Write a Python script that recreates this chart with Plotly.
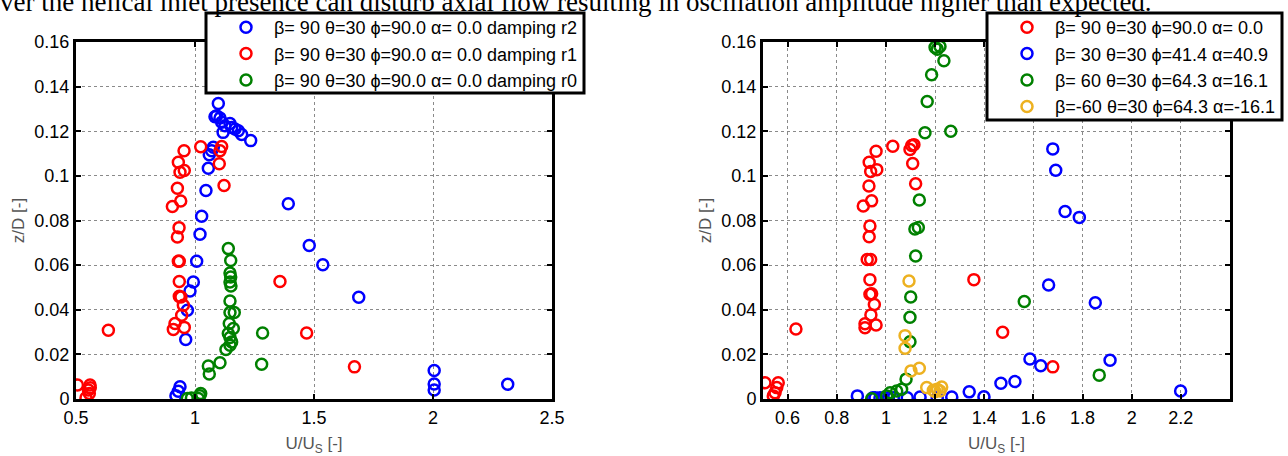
import plotly.graph_objects as go

# ---------------- data: left panel (damping comparison) ----------------
left_r2_x = [1.098, 1.091, 1.084, 1.105, 1.112, 1.126, 1.147, 1.154, 1.118, 1.168, 1.182, 1.196, 1.234,
             1.077, 1.070, 1.060, 1.056, 1.046, 1.392, 1.028, 1.021, 1.007, 0.993, 0.979, 0.968, 0.961,
             1.480, 1.537, 1.688, 0.937, 0.930, 0.920, 2.005, 2.005, 2.005, 2.314]
left_r2_y = [0.1324, 0.1269, 0.1265, 0.1259, 0.1240, 0.1225, 0.1235, 0.1217, 0.1195, 0.1210, 0.1202, 0.1185, 0.1158,
             0.1128, 0.1113, 0.1095, 0.1034, 0.0934, 0.0875, 0.0819, 0.0738, 0.0617, 0.0524, 0.0484, 0.0398, 0.0267,
             0.0688, 0.0602, 0.0456, 0.0055, 0.0035, 0.0015, 0.0128, 0.0067, 0.0040, 0.0066]

left_r1_x = [0.954, 1.024, 1.112, 1.105, 0.930, 0.937, 0.955, 1.102, 1.122, 0.926, 0.940, 0.905, 0.933, 0.926,
             0.930, 0.934, 0.934, 0.934, 0.941, 0.951, 0.944, 0.916, 0.909, 0.955, 1.357, 1.469, 1.670, 0.636,
             0.506, 0.559, 0.552, 0.556, 0.542, 0.560]
left_r1_y = [0.1113, 0.1131, 0.1132, 0.1113, 0.1061, 0.1016, 0.1024, 0.1054, 0.0957, 0.0945, 0.0887, 0.0863, 0.0768, 0.0726,
             0.0617, 0.0617, 0.0527, 0.0460, 0.0457, 0.0420, 0.0375, 0.0338, 0.0312, 0.0321, 0.0527, 0.0296, 0.0144, 0.0308,
             0.0063, 0.0063, 0.0040, 0.0025, 0.0005, 0.0050]

left_r0_x = [1.140, 1.150, 1.147, 1.150, 1.147, 1.151, 1.147, 1.147, 1.165, 1.144, 1.161, 1.140, 1.147, 1.154, 1.147,
             1.130, 1.105, 1.056, 1.060, 1.284, 1.280, 0.968, 1.014, 1.024, 0.985, 1.020]
left_r0_y = [0.0674, 0.0621, 0.0565, 0.0547, 0.0524, 0.0506, 0.0439, 0.0388, 0.0388, 0.0338, 0.0316, 0.0294, 0.0276, 0.0256, 0.0241,
             0.0222, 0.0162, 0.0148, 0.0112, 0.0296, 0.0156, 0.0002, 0.0002, 0.0025, 0.0005, 0.0015]

# ---------------- data: right panel (inlet orientation) ----------------
right_b90_x = [0.960, 1.028, 1.105, 1.114, 1.098, 0.932, 0.963, 0.938, 1.109, 1.121, 0.931, 0.942, 0.908, 0.935,
               0.932, 0.924, 0.938, 0.935, 0.935, 0.942, 0.953, 0.939, 0.915, 0.915, 0.960, 1.358, 1.475, 1.679,
               0.634, 0.508, 0.562, 0.556, 0.549, 0.542]
right_b90_y = [0.1110, 0.1133, 0.1136, 0.1140, 0.1118, 0.1061, 0.1028, 0.1020, 0.1055, 0.0965, 0.0955, 0.0888, 0.0865, 0.0775,
               0.0727, 0.0625, 0.0625, 0.0535, 0.0469, 0.0472, 0.0424, 0.0377, 0.0337, 0.0319, 0.0332, 0.0535, 0.0299, 0.0144,
               0.0314, 0.0073, 0.0073, 0.0051, 0.0028, 0.0014]

right_b30_x = [1.679, 1.691, 1.729, 1.787, 1.662, 1.852, 1.586, 1.630, 1.912, 1.525, 1.468, 2.199,
               0.884, 0.947, 0.956, 0.976, 0.989, 1.010, 1.030, 1.087, 1.139, 1.209, 1.268, 1.339, 1.399]
right_b30_y = [0.1121, 0.1025, 0.0840, 0.0814, 0.0511, 0.0431, 0.0179, 0.0149, 0.0174, 0.0078, 0.0071, 0.0036,
               0.0014, 0.0006, 0.0006, 0.0006, 0.0003, 0.0006, 0.0006, 0.0006, 0.0009, 0.0006, 0.0009, 0.0032, 0.0010]

right_b60_x = [1.200, 1.220, 1.209, 1.236, 1.186, 1.168, 1.159, 1.264, 1.136, 1.118, 1.132, 1.121, 1.101, 1.098,
               1.098, 1.082, 1.064, 1.044, 1.017, 1.003, 0.942, 1.563, 1.868]
right_b60_y = [0.1576, 0.1580, 0.1568, 0.1516, 0.1453, 0.1333, 0.1193, 0.1200, 0.0892, 0.0762, 0.0769, 0.0641, 0.0457, 0.0366,
               0.0257, 0.0089, 0.0044, 0.0036, 0.0028, 0.0014, 0.0001, 0.0437, 0.0107]

right_bm60_x = [1.094, 1.078, 1.078, 1.102, 1.136, 1.166, 1.209, 1.220, 1.200, 1.227, 1.193]
right_bm60_y = [0.0529, 0.0284, 0.0227, 0.0126, 0.0138, 0.0051, 0.0044, 0.0036, 0.0033, 0.0054, 0.0039]

left_names = ["β= 90 θ=30 ϕ=90.0 α= 0.0 damping r2",
              "β= 90 θ=30 ϕ=90.0 α= 0.0 damping r1",
              "β= 90 θ=30 ϕ=90.0 α= 0.0 damping r0"]
right_names = ["β= 90 θ=30 ϕ=90.0 α= 0.0",
               "β= 30 θ=30 ϕ=41.4 α=40.9",
               "β= 60 θ=30 ϕ=64.3 α=16.1",
               "β=-60 θ=30 ϕ=64.3 α=-16.1"]

left_xticks = [0.5, 1, 1.5, 2, 2.5]
right_xticks = [0.6, 0.8, 1.0, 1.2, 1.4, 1.6, 1.8, 2.0, 2.2]
yticks = [0, 0.02, 0.04, 0.06, 0.08, 0.1, 0.12, 0.14, 0.16]

top_text = "ver the helical inlet presence can disturb axial flow resulting in oscillation amplitude higher than expected."

BLUE, RED, GREEN, ORANGE = "#0000FF", "#FF0000", "#008000", "#EDB120"
MS, MLW = 11, 2.5

fig = go.Figure()

def add(x, y, name, color, xa, ya, legend, group):
    fig.add_trace(go.Scatter(
        x=x, y=y, mode="markers", name=name, xaxis=xa, yaxis=ya, legend=legend,
        legendgroup=group,
        marker=dict(symbol="circle-open", size=MS, color=color, line=dict(width=MLW, color=color)),
    ))

add(left_r2_x, left_r2_y, left_names[0], BLUE, "x", "y", "legend", "a")
add(left_r1_x, left_r1_y, left_names[1], RED, "x", "y", "legend", "b")
add(left_r0_x, left_r0_y, left_names[2], GREEN, "x", "y", "legend", "c")

add(right_b90_x, right_b90_y, right_names[0], RED, "x2", "y2", "legend2", "d")
add(right_b30_x, right_b30_y, right_names[1], BLUE, "x2", "y2", "legend2", "e")
add(right_b60_x, right_b60_y, right_names[2], GREEN, "x2", "y2", "legend2", "f")
add(right_bm60_x, right_bm60_y, right_names[3], ORANGE, "x2", "y2", "legend2", "g")

W, H = 1288, 456
TICKFONT = dict(family="Liberation Sans, Arial", size=18, color="black")
TITLEFONT = dict(family="Liberation Sans, Arial", size=17, color="#555555")
LEGFONT = dict(family="Liberation Sans, Arial", size=18, color="black")

axis_common = dict(
    showline=True, linewidth=3, linecolor="black", mirror="ticks",
    ticks="inside", ticklen=5, tickwidth=1.5, tickcolor="black",
    showgrid=True, gridcolor="#8a8a8a", griddash="dot", gridwidth=1,
    zeroline=False, tickfont=TICKFONT, automargin=False,
)

ydom = [1 - 399 / H, 1 - 42 / H]

def px_x(p):
    return p / W

def px_y(p):
    return 1 - p / H

# legend frames (white boxes with thick black border), legends themselves are transparent
shapes = [
    dict(type="rect", xref="paper", yref="paper", x0=px_x(206), x1=px_x(584), y0=px_y(93), y1=px_y(13),
         line=dict(color="black", width=3), fillcolor="white", layer="above"),
    dict(type="rect", xref="paper", yref="paper", x0=px_x(987), x1=px_x(1282), y0=px_y(120), y1=px_y(13),
         line=dict(color="black", width=3), fillcolor="white", layer="above"),
]

fig.update_layout(
    width=W, height=H,
    margin=dict(l=0, r=0, t=0, b=0, autoexpand=False),
    paper_bgcolor="white", plot_bgcolor="white",
    xaxis=dict(domain=[76 / W, 552 / W], range=[0.5, 2.5], tickvals=left_xticks,
               ticktext=["0.5", "1", "1.5", "2", "2.5"], anchor="y",
               title=dict(text="U/U<sub>S</sub> [-]", font=TITLEFONT, standoff=14), **axis_common),
    yaxis=dict(domain=ydom, range=[0, 0.16], tickvals=yticks, anchor="x",
               ticktext=["0", "0.02", "0.04", "0.06", "0.08", "0.1", "0.12", "0.14", "0.16"],
               title=dict(text="z/D [-]", font=TITLEFONT, standoff=6), **axis_common),
    xaxis2=dict(domain=[763 / W, 1230 / W], range=[0.5, 2.4], tickvals=right_xticks,
                ticktext=["0.6", "0.8", "1", "1.2", "1.4", "1.6", "1.8", "2", "2.2"], anchor="y2",
                title=dict(text="U/U<sub>S</sub> [-]", font=TITLEFONT, standoff=14), **axis_common),
    yaxis2=dict(domain=ydom, range=[0, 0.16], tickvals=yticks, anchor="x2",
                ticktext=["0", "0.02", "0.04", "0.06", "0.08", "0.1", "0.12", "0.14", "0.16"],
                title=dict(text="z/D [-]", font=TITLEFONT, standoff=6), **axis_common),
    legend=dict(x=px_x(218), y=px_y(9), xanchor="left", yanchor="top",
                bgcolor="rgba(0,0,0,0)", borderwidth=0, font=LEGFONT,
                itemwidth=46, traceorder="grouped", tracegroupgap=0),
    legend2=dict(x=px_x(999), y=px_y(9), xanchor="left", yanchor="top",
                 bgcolor="rgba(0,0,0,0)", borderwidth=0, font=LEGFONT,
                 itemwidth=46, traceorder="grouped", tracegroupgap=0),
    showlegend=True,
    shapes=shapes,
    annotations=[dict(text=top_text, x=-2 / W, y=1 + 15 / H, xref="paper", yref="paper",
                      xanchor="left", yanchor="top", showarrow=False,
                      font=dict(family="Liberation Serif, Times New Roman", size=27, color="black"))],
)

fig.write_html("out.html")
